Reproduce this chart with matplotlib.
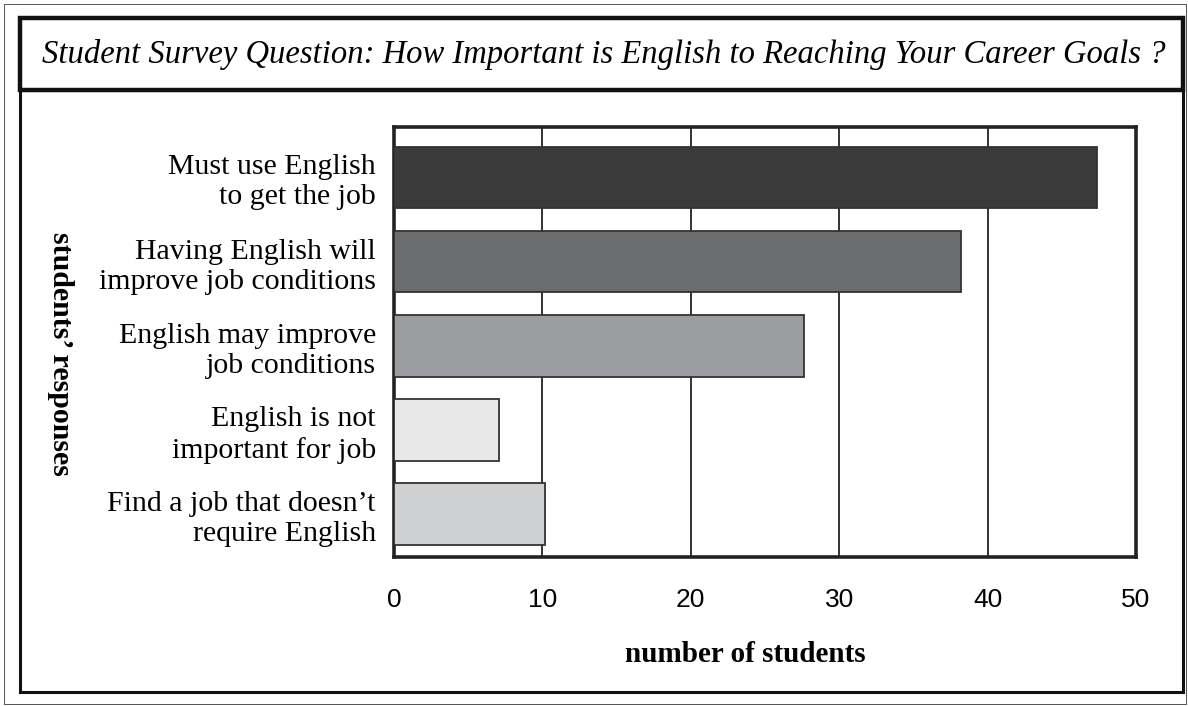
import matplotlib
matplotlib.use("Agg")
import matplotlib.pyplot as plt
from matplotlib.patches import Rectangle

# survey data, top bar first
responses = ["Must use English\nto get the job",
             "Having English will\nimprove job conditions",
             "English may improve\njob conditions",
             "English is not\nimportant for job",
             "Find a job that doesn\u2019t\nrequire English"]
counts = [47.4, 38.2, 27.6, 7.1, 10.2]
bar_colors = ["#3b3b3b", "#6b6c6e", "#9c9da0", "#e8e8e8", "#cfd0d1"]
xticks = [0, 10, 20, 30, 40, 50]

W, H = 1188, 706
fig = plt.figure(figsize=(W / 100, H / 100), dpi=100)

serif = "Liberation Serif"
sans = ["Liberation Sans", "DejaVu Sans"]

# outer frames (title box + chart box)
def px_rect(x0, y0, x1, y1, lw):
    r = Rectangle((x0 / W, 1 - y1 / H), (x1 - x0) / W, (y1 - y0) / H,
                  transform=fig.transFigure, fill=False, edgecolor="#111111",
                  linewidth=lw)
    fig.patches.append(r)

px_rect(4, 4, 1186, 704, 0.5)
px_rect(20, 90, 1183, 692, 2.2)
px_rect(20, 18, 1183, 90, 3.2)

fig.text(604 / W, 1 - 54 / H,
         "Student Survey Question: How Important is English to Reaching Your Career Goals ?",
         ha="center", va="center", fontsize=23.5, family=serif, style="italic")

ax = fig.add_axes([394 / W, 1 - 557 / H, (1136 - 394) / W, (557 - 127) / H])
ypos = list(range(len(counts)))[::-1]
ax.barh(ypos, counts, height=0.73, color=bar_colors, edgecolor="#333333",
        linewidth=1.3, zorder=3)

ax.set_xlim(0, 50)
ax.set_ylim(-0.51, 4.6)
ax.set_xticks(xticks)
ax.set_xticklabels([str(t) for t in xticks], family=sans, fontsize=19)
ax.set_yticks(ypos)
ax.set_yticklabels(responses, family=serif, fontsize=21.5, linespacing=1.2)
ax.tick_params(axis="both", length=0)
ax.tick_params(axis="x", pad=22)
ax.tick_params(axis="y", pad=13)
ax.xaxis.grid(True, color="#333333", linewidth=1.4, zorder=0)
ax.set_axisbelow(True)
for s in ax.spines.values():
    s.set_linewidth(2.6)
    s.set_color("#222222")

fig.text(745 / W, 1 - 655 / H, "number of students", ha="center", va="center",
         family=serif, fontweight="bold", fontsize=21)
fig.text(60 / W, 1 - 354 / H, "students\u2019 responses", rotation=270,
         ha="center", va="center", family=serif, fontweight="bold", fontsize=21.5)

fig.savefig("out.png", dpi=100)
